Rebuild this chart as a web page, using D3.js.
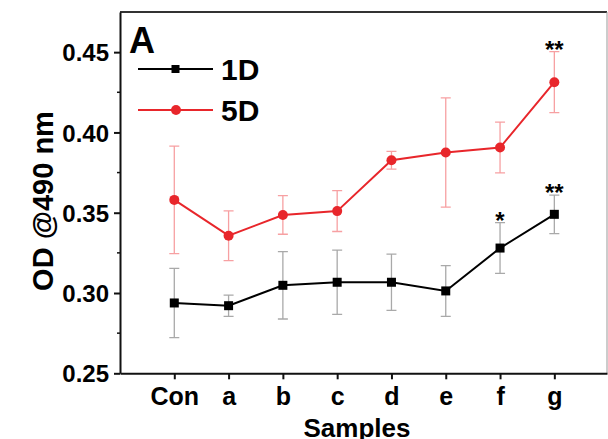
<!DOCTYPE html>
<html>
<head>
<meta charset="utf-8">
<script src="https://cdn.jsdelivr.net/npm/d3@7"></script>
<style>
  body { margin: 0; background: #fff; }
  text { font-family: "Liberation Sans", Arial, sans-serif; font-weight: bold; }
</style>
</head>
<body>
<div class="chart"></div>
<script>
var width = 608;
var height = 439;

// data
var samples = ["Con", "a", "b", "c", "d", "e", "f", "g"];
var od1D = [0.2938, 0.2921, 0.3048, 0.3067, 0.3067, 0.3013, 0.328, 0.349];
var err1D = [0.0216, 0.0066, 0.021, 0.020, 0.0175, 0.0158, 0.0158, 0.012];
var od5D = [0.358, 0.3357, 0.3486, 0.351, 0.3827, 0.3875, 0.3906, 0.4313];
var err5D = [0.0335, 0.0155, 0.012, 0.0127, 0.0055, 0.034, 0.0158, 0.019];
var sig1D = ["", "", "", "", "", "", "*", "**"];
var sig5D = ["", "", "", "", "", "", "", "**"];
var yTicks = [0.25, 0.30, 0.35, 0.40, 0.45];
var yMinor = [0.275, 0.325, 0.375, 0.425];

var mLeft = 120, mTop = 12, mRight = 607, mBottom = 373.3;

var x = d3.scaleLinear().domain([-1, 7.97]).range([mLeft, mRight]);
var y = d3.scaleLinear().domain([0.25, 0.475]).range([mBottom, mTop]);

var svg = d3.select(".chart").append("svg")
    .attr("width", width)
    .attr("height", height);

// frame (top and right)
svg.append("line").attr("x1", mLeft).attr("x2", mRight).attr("y1", mTop).attr("y2", mTop)
    .style("stroke", "#333").style("stroke-width", 2);
svg.append("line").attr("x1", mRight).attr("x2", mRight).attr("y1", mTop).attr("y2", mBottom)
    .style("stroke", "#999").style("stroke-width", 1);

// axes
var yAxis = d3.axisLeft(y).tickValues(yTicks).tickFormat(d3.format(".2f")).tickSize(6).tickSizeOuter(0);
var gy = svg.append("g").attr("transform", "translate(" + mLeft + ",0)").call(yAxis);
gy.selectAll("text").style("font-size", "24px").attr("x", -11).attr("dy", "0.36em");
gy.selectAll("line, path").style("stroke", "#111").style("stroke-width", 2);
gy.selectAll(".minor").data(yMinor).enter().append("line")
    .attr("class", "minor")
    .attr("x1", -3).attr("x2", 0)
    .attr("y1", function(d){ return y(d); }).attr("y2", function(d){ return y(d); })
    .style("stroke", "#111").style("stroke-width", 1.5);

var xAxis = d3.axisBottom(x).tickValues(d3.range(samples.length))
    .tickFormat(function(i){ return samples[i]; }).tickSize(6).tickSizeOuter(0);
var gx = svg.append("g").attr("transform", "translate(0," + mBottom + ")").call(xAxis);
gx.selectAll("text").style("font-size", "25px").attr("y", 10).attr("dy", "0.85em");
gx.selectAll("line, path").style("stroke", "#111").style("stroke-width", 2);

// axis titles
svg.append("text")
    .attr("transform", "translate(53,201) rotate(-90)")
    .attr("text-anchor", "middle")
    .style("font-size", "29px")
    .text("OD @490 nm");
svg.append("text")
    .attr("x", 357).attr("y", 437)
    .attr("text-anchor", "middle")
    .style("font-size", "26px")
    .text("Samples");

// panel letter
svg.append("text").attr("x", 129).attr("y", 53).style("font-size", "36px").text("A");

function drawSeries(vals, errs, color, errColor, marker) {
  var g = svg.append("g");
  g.selectAll(".err").data(vals).enter().append("path")
      .attr("d", function(d, i){
        var cx = x(i), t = y(d + errs[i]), b = y(d - errs[i]);
        return "M" + (cx - 5) + "," + t + "H" + (cx + 5) + "M" + cx + "," + t + "V" + b +
               "M" + (cx - 5) + "," + b + "H" + (cx + 5);
      })
      .style("fill", "none").style("stroke", errColor).style("stroke-width", 1.3);
  g.append("path").datum(vals)
      .attr("d", d3.line().x(function(d, i){ return x(i); }).y(function(d){ return y(d); }))
      .style("fill", "none").style("stroke", color).style("stroke-width", 2);
  if (marker == "square") {
    g.selectAll(".pt").data(vals).enter().append("rect")
        .attr("x", function(d, i){ return x(i) - 4.5; })
        .attr("y", function(d){ return y(d) - 4.5; })
        .attr("width", 9).attr("height", 9)
        .style("fill", color);
  } else {
    g.selectAll(".pt").data(vals).enter().append("circle")
        .attr("cx", function(d, i){ return x(i); })
        .attr("cy", function(d){ return y(d); })
        .attr("r", 5)
        .style("fill", color);
  }
}

drawSeries(od5D, err5D, "#e8262b", "#f7a0a2", "circle");
drawSeries(od1D, err1D, "#000", "#a9a9a9", "square");

// significance stars
function stars(vals, errs, sig) {
  svg.append("g").selectAll("text").data(sig).enter().append("text")
      .attr("x", function(d, i){ return x(i); })
      .attr("y", function(d, i){ return y(vals[i] + errs[i]) + 6; })
      .attr("text-anchor", "middle")
      .style("font-size", "24px")
      .text(function(d){ return d; });
}
stars(od1D, err1D, sig1D);
stars(od5D, err5D, sig5D);

// legend
var legend = [["1D", "#000", "square", 69], ["5D", "#e8262b", "circle", 110]];
legend.forEach(function(l){
  svg.append("line").attr("x1", 138).attr("x2", 213).attr("y1", l[3]).attr("y2", l[3])
      .style("stroke", l[1]).style("stroke-width", 2);
  if (l[2] == "square") {
    svg.append("rect").attr("x", 175.5 - 4).attr("y", l[3] - 4).attr("width", 8).attr("height", 8).style("fill", l[1]);
  } else {
    svg.append("circle").attr("cx", 176).attr("cy", l[3]).attr("r", 5).style("fill", l[1]);
  }
  svg.append("text").attr("x", 221).attr("y", l[3] + 11).style("font-size", "30px").text(l[0]);
});
</script>
</body>
</html>
